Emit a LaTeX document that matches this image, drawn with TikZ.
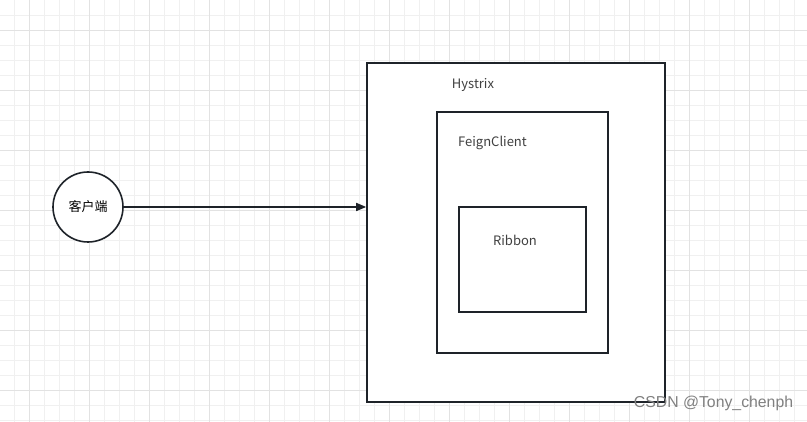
\documentclass[tikz,border=0pt]{standalone}
\usepackage{fontspec}
\setmainfont{Noto Sans CJK SC}
\usepackage{tikz}
\usetikzlibrary{arrows.meta,positioning,calc}

\definecolor{edge}{HTML}{1E2329}
\definecolor{gridminor}{HTML}{F0F0F0}
\definecolor{gridmajor}{HTML}{E2E2E2}

\begin{document}
\begin{tikzpicture}[
  x=1pt, y=-1pt,
  frame/.style={draw=edge, line width=1.6pt, fill=white, inner sep=0pt},
  client/.style={draw=edge, line width=1.6pt, fill=white, circle,
    minimum size=70pt, inner sep=0pt, font=\fontsize{13}{15}\selectfont},
  tag/.style={inner sep=0pt, text=black!75, font=\fontsize{13}{15}\selectfont},
  arrow/.style={-{Triangle[length=10pt, width=8pt]}, draw=edge, line width=1.6pt}
]
\useasboundingbox (0,0) rectangle (807,422);
\fill[white] (0,0) rectangle (807,422);
% grid
\foreach \k in {0,...,53}
  \draw[gridminor, line width=0.8pt] (14.5+15*\k,0)--(14.5+15*\k,422);
\foreach \k in {1,...,28}
  \draw[gridminor, line width=0.8pt] (0,15*\k)--(807,15*\k);
\foreach \k in {0,...,13}
  \draw[gridmajor, line width=0.8pt] (29.5+60*\k,0)--(29.5+60*\k,422);
\foreach \k in {0,...,6}
  \draw[gridmajor, line width=0.8pt] (0,30+60*\k)--(807,30+60*\k);

\node[client] (client) at (88,207) {客户端};
\node[frame, minimum width=298pt, minimum height=339pt] (hystrix) at (516,232.5) {};
\node[frame, minimum width=171pt, minimum height=241pt] (feign) at (522.5,232.5) {};
\node[frame, minimum width=127pt, minimum height=105pt] (ribbon) at (522.5,259.5) {};

\node[tag] (hystrixlabel) at (473,85) {Hystrix};
\node[tag] (feignlabel) at (492.5,143) {FeignClient};
\node[tag] (ribbonlabel) at (515,240) {Ribbon};

\draw[arrow] (client.east)--(client.east -| hystrix.west);

\node[text=black!50, inner sep=0pt, font=\fontspec{Liberation Sans}\fontsize{15.8}{18}\selectfont]
  (mark) at (713.5,403) {CSDN @Tony\_chenph};
\end{tikzpicture}
\end{document}
